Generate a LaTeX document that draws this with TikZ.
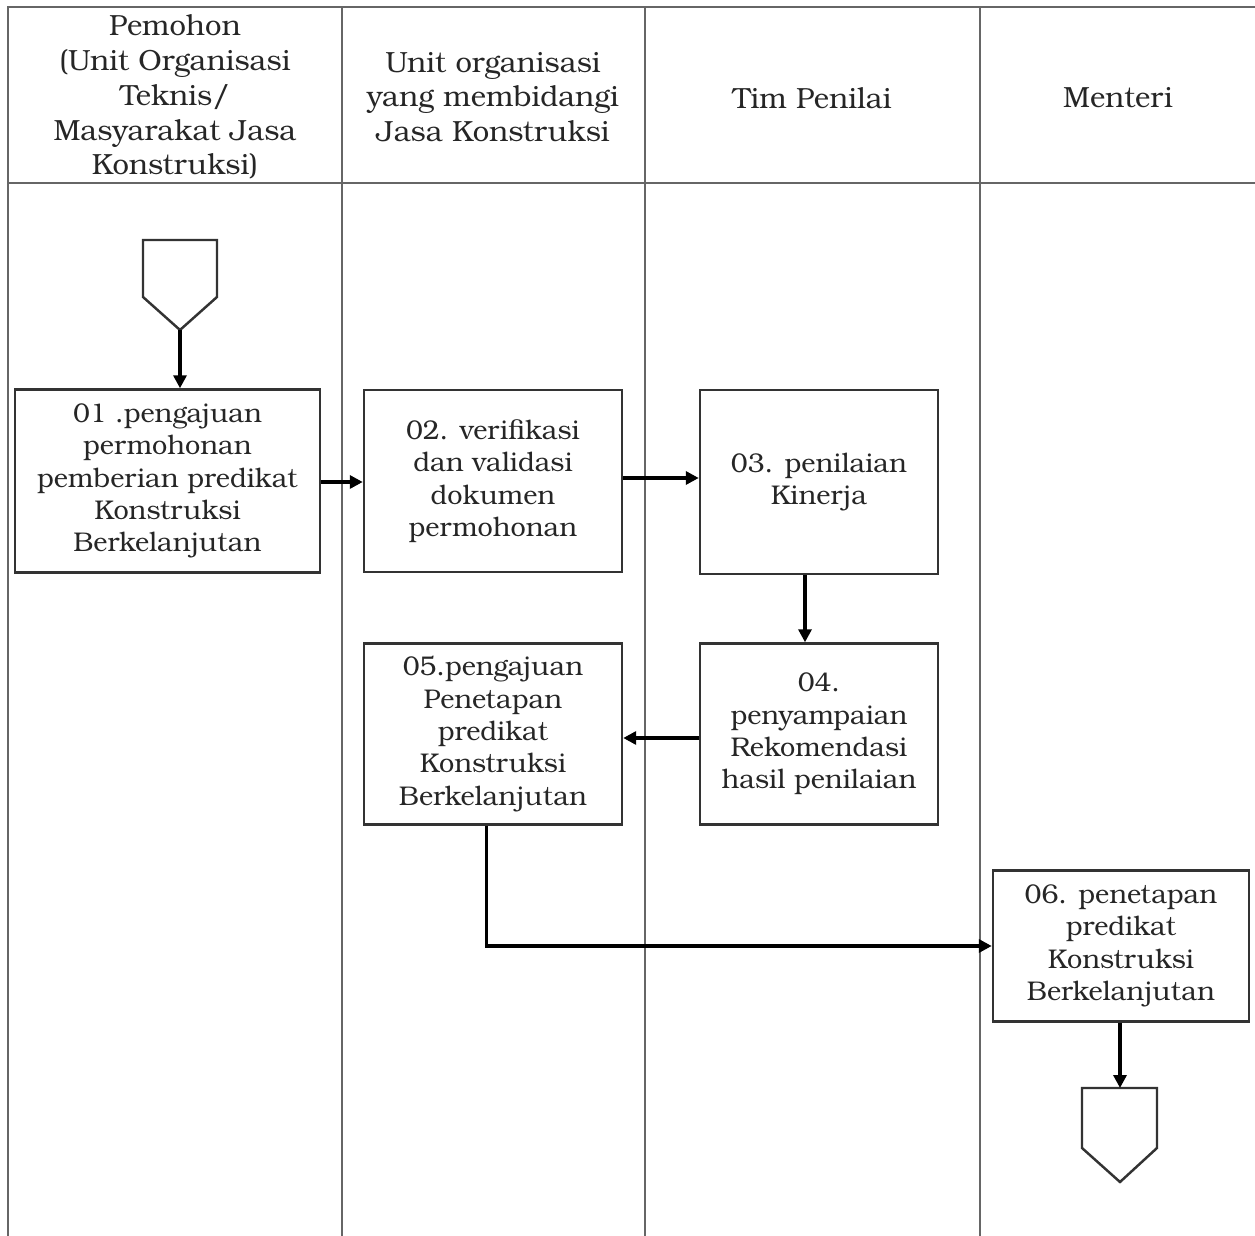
\documentclass[tikz,border=0pt]{standalone}
\usepackage{fontspec}
\setmainfont{texgyrebonum-regular.otf}
\usetikzlibrary{arrows.meta}
\begin{document}
\begin{tikzpicture}[x=0.02cm,y=-0.02cm,
  lane/.style={draw=black!60,line width=1.1pt},
  hdr/.style={align=center,text=black!85,font=\fontsize{16.6}{19.8}\selectfont,inner sep=0pt},
  stepbox/.style={draw=black!80,line width=1.4pt,fill=white,align=center,text=black!85,
     font=\fontsize{15.4}{18.4}\selectfont,inner sep=0pt},
  arr/.style={draw=black,line width=2pt,-{Triangle[length=0.26cm,width=0.26cm]}},
  term/.style={draw=black!80,line width=1.4pt,fill=white,line join=miter}]
\useasboundingbox (0,0) rectangle (1255,1236);
% lanes
\draw[lane] (1255,7) -- (8,7) -- (8,1236);
\draw[lane] (8,183) -- (1255,183);
\draw[lane] (342,7) -- (342,1236);
\draw[lane] (645,7) -- (645,1236);
\draw[lane] (980,7) -- (980,1236);
% headers
\node[hdr] (h1) at (175,97) {Pemohon\\(Unit Organisasi\\Teknis/\\Masyarakat Jasa\\Konstruksi)};
\node[hdr] (h2) at (493,97) {Unit organisasi\\yang membidangi\\Jasa Konstruksi};
\node[hdr] (h3) at (812,98) {Tim Penilai};
\node[hdr] (h4) at (1118,98) {Menteri};
% boxes
\node[stepbox,minimum width=305*0.02cm,minimum height=183*0.02cm] (b1) at (167.5,481) {01 .pengajuan\\permohonan\\pemberian predikat\\Konstruksi\\Berkelanjutan};
\node[stepbox,minimum width=258*0.02cm,minimum height=182*0.02cm] (b2) at (493,481) {02. verifikasi\\dan validasi\\dokumen\\permohonan};
\node[stepbox,minimum width=238*0.02cm,minimum height=184*0.02cm] (b3) at (819,482) {03. penilaian\\Kinerja};
\node[stepbox,minimum width=238*0.02cm,minimum height=181*0.02cm] (b4) at (819,734) {04.\\penyampaian\\Rekomendasi\\hasil penilaian};
\node[stepbox,minimum width=258*0.02cm,minimum height=181*0.02cm] (b5) at (493,734) {05.pengajuan\\Penetapan\\predikat\\Konstruksi\\Berkelanjutan};
\node[stepbox,minimum width=256*0.02cm,minimum height=151*0.02cm] (b6) at (1121,946) {06. penetapan\\predikat\\Konstruksi\\Berkelanjutan};
% terminators
\draw[term] (143,240) -- (217,240) -- (217,297) -- (180,330) -- (143,297) -- cycle;
\coordinate (stip) at (180,330);
\draw[term] (1082,1088) -- (1157,1088) -- (1157,1148) -- (1120,1182) -- (1082,1148) -- cycle;
\coordinate (etop) at (1120,1088);
% connectors
\draw[arr] (stip) -- (stip |- b1.north);
\draw[arr] ([yshift=-0.02cm]b1.east) -- ([yshift=-0.02cm]b1.east -| b2.west);
\draw[arr] ([yshift=0.06cm]b2.east) -- ([yshift=0.06cm]b2.east -| b3.west);
\draw[arr] ([xshift=-0.28cm]b3.south) -- ([xshift=-0.28cm]b4.north);
\draw[arr] ([yshift=-0.08cm]b4.west) -- ([yshift=-0.08cm]b4.west -| b5.east);
\draw[arr] ([xshift=-0.13cm]b5.south) |- (b6.west);
\draw[arr] (b6.south -| etop) -- (etop);
\end{tikzpicture}
\end{document}
